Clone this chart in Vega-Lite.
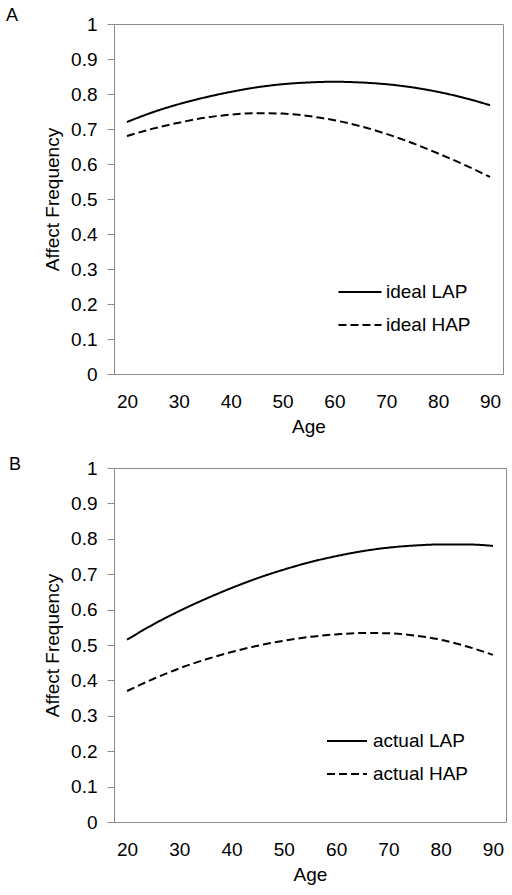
{
  "$schema": "https://vega.github.io/schema/vega-lite/v6.json",
  "background": "white",
  "padding": {"left": 5, "top": 6, "right": 5, "bottom": 4},
  "config": {
    "font": "Liberation Sans",
    "view": {"stroke": "#8c8c8c", "strokeWidth": 1},
    "axis": {"grid": false, "labelFont": "Liberation Sans", "titleFont": "Liberation Sans", "labelFontSize": 19, "titleFontSize": 19, "labelColor": "#000", "titleColor": "#000", "titleFontWeight": "normal", "domainColor": "#8c8c8c", "tickColor": "#8c8c8c"},
    "legend": {"labelFont": "Liberation Sans", "labelFontSize": 19, "labelColor": "#000"},
    "title": {"font": "Liberation Sans", "fontSize": 18, "fontWeight": "normal", "color": "#000", "anchor": "start", "frame": "group"}
  },
  "datasets": {
    "curves": [
      {"panel": "A", "age": 20, "series": "ideal LAP", "value": 0.72},
      {"panel": "A", "age": 25, "series": "ideal LAP", "value": 0.748},
      {"panel": "A", "age": 30, "series": "ideal LAP", "value": 0.771},
      {"panel": "A", "age": 35, "series": "ideal LAP", "value": 0.79},
      {"panel": "A", "age": 40, "series": "ideal LAP", "value": 0.806},
      {"panel": "A", "age": 45, "series": "ideal LAP", "value": 0.819},
      {"panel": "A", "age": 50, "series": "ideal LAP", "value": 0.828},
      {"panel": "A", "age": 55, "series": "ideal LAP", "value": 0.833},
      {"panel": "A", "age": 60, "series": "ideal LAP", "value": 0.835},
      {"panel": "A", "age": 65, "series": "ideal LAP", "value": 0.833},
      {"panel": "A", "age": 70, "series": "ideal LAP", "value": 0.828},
      {"panel": "A", "age": 75, "series": "ideal LAP", "value": 0.819},
      {"panel": "A", "age": 80, "series": "ideal LAP", "value": 0.806},
      {"panel": "A", "age": 85, "series": "ideal LAP", "value": 0.789},
      {"panel": "A", "age": 90, "series": "ideal LAP", "value": 0.768},
      {"panel": "A", "age": 20, "series": "ideal HAP", "value": 0.68},
      {"panel": "A", "age": 25, "series": "ideal HAP", "value": 0.701},
      {"panel": "A", "age": 30, "series": "ideal HAP", "value": 0.718},
      {"panel": "A", "age": 35, "series": "ideal HAP", "value": 0.732},
      {"panel": "A", "age": 40, "series": "ideal HAP", "value": 0.741},
      {"panel": "A", "age": 45, "series": "ideal HAP", "value": 0.745},
      {"panel": "A", "age": 50, "series": "ideal HAP", "value": 0.744},
      {"panel": "A", "age": 55, "series": "ideal HAP", "value": 0.737},
      {"panel": "A", "age": 60, "series": "ideal HAP", "value": 0.725},
      {"panel": "A", "age": 65, "series": "ideal HAP", "value": 0.708},
      {"panel": "A", "age": 70, "series": "ideal HAP", "value": 0.686},
      {"panel": "A", "age": 75, "series": "ideal HAP", "value": 0.66},
      {"panel": "A", "age": 80, "series": "ideal HAP", "value": 0.63},
      {"panel": "A", "age": 85, "series": "ideal HAP", "value": 0.598},
      {"panel": "A", "age": 90, "series": "ideal HAP", "value": 0.563},
      {"panel": "B", "age": 20, "series": "actual LAP", "value": 0.515},
      {"panel": "B", "age": 25, "series": "actual LAP", "value": 0.558},
      {"panel": "B", "age": 30, "series": "actual LAP", "value": 0.596},
      {"panel": "B", "age": 35, "series": "actual LAP", "value": 0.63},
      {"panel": "B", "age": 40, "series": "actual LAP", "value": 0.661},
      {"panel": "B", "age": 45, "series": "actual LAP", "value": 0.689},
      {"panel": "B", "age": 50, "series": "actual LAP", "value": 0.713},
      {"panel": "B", "age": 55, "series": "actual LAP", "value": 0.734},
      {"panel": "B", "age": 60, "series": "actual LAP", "value": 0.751},
      {"panel": "B", "age": 65, "series": "actual LAP", "value": 0.765},
      {"panel": "B", "age": 70, "series": "actual LAP", "value": 0.775},
      {"panel": "B", "age": 75, "series": "actual LAP", "value": 0.781},
      {"panel": "B", "age": 80, "series": "actual LAP", "value": 0.784},
      {"panel": "B", "age": 85, "series": "actual LAP", "value": 0.784},
      {"panel": "B", "age": 90, "series": "actual LAP", "value": 0.78},
      {"panel": "B", "age": 20, "series": "actual HAP", "value": 0.37},
      {"panel": "B", "age": 25, "series": "actual HAP", "value": 0.404},
      {"panel": "B", "age": 30, "series": "actual HAP", "value": 0.434},
      {"panel": "B", "age": 35, "series": "actual HAP", "value": 0.459},
      {"panel": "B", "age": 40, "series": "actual HAP", "value": 0.48},
      {"panel": "B", "age": 45, "series": "actual HAP", "value": 0.498},
      {"panel": "B", "age": 50, "series": "actual HAP", "value": 0.512},
      {"panel": "B", "age": 55, "series": "actual HAP", "value": 0.523},
      {"panel": "B", "age": 60, "series": "actual HAP", "value": 0.53},
      {"panel": "B", "age": 65, "series": "actual HAP", "value": 0.534},
      {"panel": "B", "age": 70, "series": "actual HAP", "value": 0.533},
      {"panel": "B", "age": 75, "series": "actual HAP", "value": 0.527},
      {"panel": "B", "age": 80, "series": "actual HAP", "value": 0.515},
      {"panel": "B", "age": 85, "series": "actual HAP", "value": 0.496},
      {"panel": "B", "age": 90, "series": "actual HAP", "value": 0.472}
    ]
  },
  "resolve": {"scale": {"strokeDash": "independent", "x": "independent", "y": "independent"}, "legend": {"strokeDash": "independent"}},
  "spacing": 18,
  "vconcat": [
    {
      "title": {"text": "A", "dx": -108, "dy": 14},
      "width": 389,
      "height": 350,
      "data": {"name": "curves"},
      "transform": [{"filter": "datum.panel === 'A'"}],
      "mark": {"type": "line", "color": "#000", "strokeWidth": 2, "interpolate": "monotone"},
      "encoding": {
        "x": {"field": "age", "type": "quantitative", "title": "Age", "scale": {"domain": [17.5, 92.5], "nice": false, "zero": false}, "axis": {"values": [20, 30, 40, 50, 60, 70, 80, 90], "ticks": false, "domain": true, "labelPadding": 18, "titlePadding": 6, "labelFlush": false}},
        "y": {"field": "value", "type": "quantitative", "title": "Affect Frequency", "scale": {"domain": [0, 1], "nice": false}, "axis": {"values": [0, 0.1, 0.2, 0.3, 0.4, 0.5, 0.6, 0.7, 0.8, 0.9, 1], "format": ".1~f", "tickSize": 7, "labelPadding": 10, "titlePadding": 8, "labelFlush": false}},
        "strokeDash": {"field": "series", "type": "nominal", "scale": {"domain": ["ideal LAP", "ideal HAP"], "range": [[1, 0], [8, 4]]}, "legend": {"title": null, "orient": "none", "legendX": 223, "legendY": 245, "symbolType": "stroke", "symbolSize": 1850, "symbolStrokeWidth": 2, "symbolStrokeColor": "#000", "labelOffset": 3, "rowPadding": -2}}
      }
    },
    {
      "title": {"text": "B", "dx": -105, "dy": 19},
      "width": 392,
      "height": 354,
      "data": {"name": "curves"},
      "transform": [{"filter": "datum.panel === 'B'"}],
      "mark": {"type": "line", "color": "#000", "strokeWidth": 2, "interpolate": "monotone"},
      "encoding": {
        "x": {"field": "age", "type": "quantitative", "title": "Age", "scale": {"domain": [17.5, 92.5], "nice": false, "zero": false}, "axis": {"values": [20, 30, 40, 50, 60, 70, 80, 90], "ticks": false, "domain": true, "labelPadding": 18, "titlePadding": 6, "labelFlush": false}},
        "y": {"field": "value", "type": "quantitative", "title": "Affect Frequency", "scale": {"domain": [0, 1], "nice": false}, "axis": {"values": [0, 0.1, 0.2, 0.3, 0.4, 0.5, 0.6, 0.7, 0.8, 0.9, 1], "format": ".1~f", "tickSize": 7, "labelPadding": 10, "titlePadding": 8, "labelFlush": false}},
        "strokeDash": {"field": "series", "type": "nominal", "scale": {"domain": ["actual LAP", "actual HAP"], "range": [[1, 0], [8, 4]]}, "legend": {"title": null, "orient": "none", "legendX": 212, "legendY": 252, "symbolType": "stroke", "symbolSize": 1600, "symbolStrokeWidth": 2, "symbolStrokeColor": "#000", "labelOffset": 5, "rowPadding": 2}}
      }
    }
  ]
}
